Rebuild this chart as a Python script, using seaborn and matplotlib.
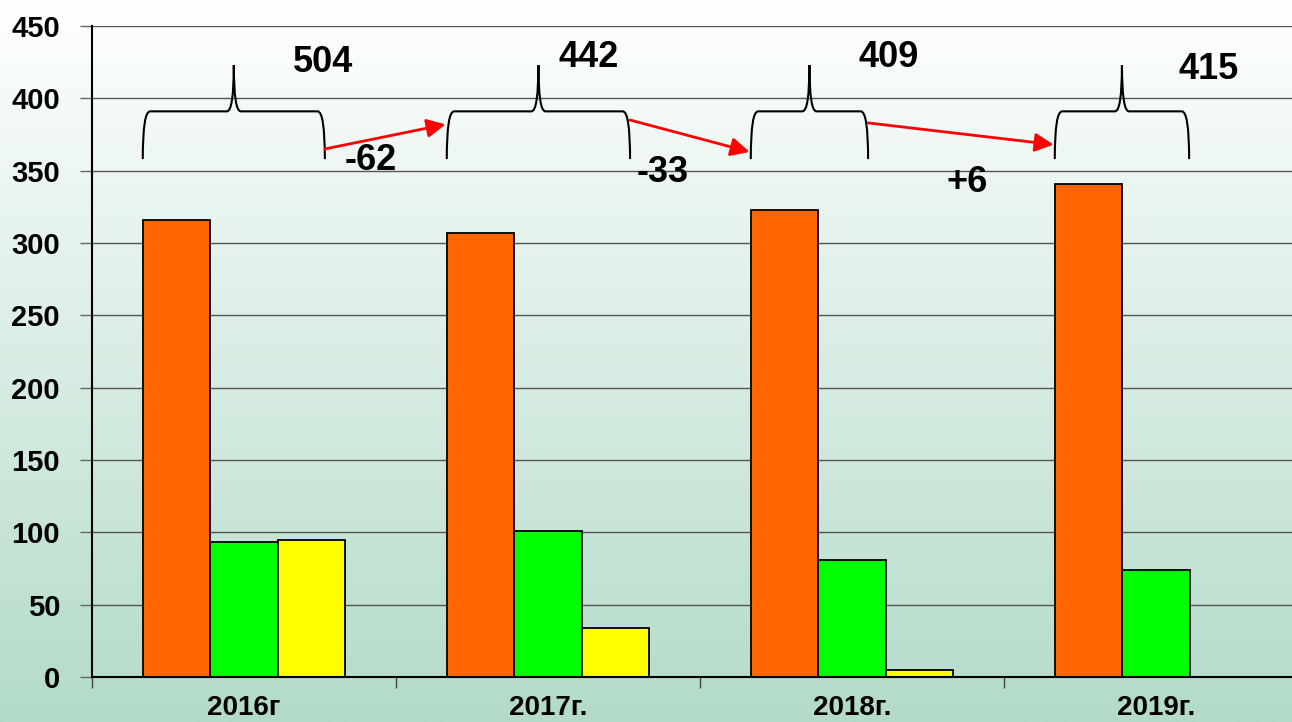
import numpy as np
import pandas as pd
import matplotlib
matplotlib.use("Agg")
import matplotlib.pyplot as plt
from matplotlib.path import Path
from matplotlib.patches import PathPatch, FancyArrowPatch
from matplotlib.colors import LinearSegmentedColormap
import seaborn as sns

# --- данные ---
years = ["2016г", "2017г.", "2018г.", "2019г."]
orange_vals = [316, 307, 323, 341]
green_vals = [93, 101, 81, 74]
yellow_vals = [95, 34, 5, np.nan]
series = ["ряд 1", "ряд 2", "ряд 3"]
colors = ["#FF6600", "#00FF00", "#FFFF00"]

# правый край фигурной скобки (смещение от центра группы)
brace_right = [0.266, 0.27, 0.053, 0.109]
# высоты концов стрелок (начало, конец)
arrow_y = [(365, 382), (385, 363), (383, 368)]

df = pd.DataFrame({
    "year": years * 3,
    "series": [s for s in series for _ in years],
    "value": orange_vals + green_vals + yellow_vals,
})
totals = [int(np.nansum(v)) for v in zip(orange_vals, green_vals, yellow_vals)]
diffs = [totals[i + 1] - totals[i] for i in range(len(totals) - 1)]

sns.set_style("white")
plt.rcParams["font.family"] = ["Liberation Sans", "DejaVu Sans"]
plt.rcParams["font.weight"] = "bold"
plt.rcParams["text.color"] = "black"
plt.rcParams["xtick.labelcolor"] = "black"
plt.rcParams["ytick.labelcolor"] = "black"

fig = plt.figure(figsize=(12.92, 7.22), dpi=100)

# градиентный фон
bg = fig.add_axes([0, 0, 1, 1], zorder=0)
cmap = LinearSegmentedColormap.from_list("bg", ["#B3DBC8", "#FFFFFF"])
grad = np.linspace(0, 1, 256).reshape(-1, 1)
bg.imshow(grad, aspect="auto", cmap=cmap, origin="lower", extent=[0, 1, 0, 1])
bg.axis("off")

ax = fig.add_axes([92 / 1292, 45 / 722, 1216 / 1292, 651 / 722], zorder=1)
ax.patch.set_alpha(0)

sns.barplot(data=df, x="year", y="value", hue="series", hue_order=series,
            palette=colors, saturation=1, width=0.665, edgecolor="black",
            linewidth=1.3, legend=False, ax=ax)

ax.set_xlim(-0.5, 3.5)
ax.set_ylim(0, 450)
ax.set_yticks(range(0, 451, 50))
ax.yaxis.grid(True, color="#555555", linewidth=1)
ax.set_axisbelow(True)
ax.set_xlabel("")
ax.set_ylabel("")
for s in ["top", "right"]:
    ax.spines[s].set_visible(False)
for s in ["left", "bottom"]:
    ax.spines[s].set_color("black")
    ax.spines[s].set_linewidth(1.5)

ax.tick_params(axis="y", left=True, length=9, width=1, color="#666666",
               pad=14, labelsize=21, labelcolor="black")
ax.tick_params(axis="x", which="major", bottom=True, length=0, pad=13,
               labelsize=20, labelcolor="black")
ax.set_xticks([-0.5, 0.5, 1.5, 2.5, 3.5], minor=True)
ax.tick_params(axis="x", which="minor", bottom=True, length=8, width=1,
               color="#444444")
for lab in ax.get_yticklabels() + ax.get_xticklabels():
    lab.set_fontweight("bold")

# фигурные скобки над группами
def brace(x0, xl, xr, yb=358, yh=391, yp=423):
    xl, xr = x0 + xl, x0 + xr
    xc = (xl + xr) / 2
    c, w = 0.024, 0.023
    verts = [(xl, yb), (xl, yh), (xl + c, yh), (xc - w, yh), (xc, yh), (xc, yp),
             (xc, yh), (xc + w, yh), (xr - c, yh), (xr, yh), (xr, yb)]
    codes = [Path.MOVETO, Path.CURVE3, Path.CURVE3, Path.LINETO, Path.CURVE3,
             Path.CURVE3, Path.CURVE3, Path.CURVE3, Path.LINETO, Path.CURVE3,
             Path.CURVE3]
    ax.add_patch(PathPatch(Path(verts, codes), facecolor="none",
                           edgecolor="black", linewidth=1.5, zorder=4))

for i in range(len(years)):
    brace(i, -0.333, brace_right[i])

# суммы над скобками
total_pos = [(0.26, 425), (0.135, 428), (0.122, 428), (0.174, 420)]
for i, t in enumerate(totals):
    dx, y = total_pos[i]
    ax.text(i + dx, y, str(t), ha="center", va="center", fontsize=26,
            fontweight="bold", color="black", zorder=5)

# стрелки и разница
diff_pos = [(0.418, 357), (1.378, 349), (2.378, 342)]
for i, d in enumerate(diffs):
    y0, y1 = arrow_y[i]
    arr = FancyArrowPatch((i + brace_right[i], y0), (i + 1 - 0.337, y1),
                          arrowstyle="-|>", mutation_scale=28, color="red",
                          linewidth=2, shrinkA=0, shrinkB=0, zorder=5)
    ax.add_patch(arr)
    x, y = diff_pos[i]
    ax.text(x, y, f"{d:+d}" if d > 0 else str(d), ha="center", va="center",
            fontsize=26, fontweight="bold", color="black", zorder=5)

fig.savefig("out.png", dpi=100)
